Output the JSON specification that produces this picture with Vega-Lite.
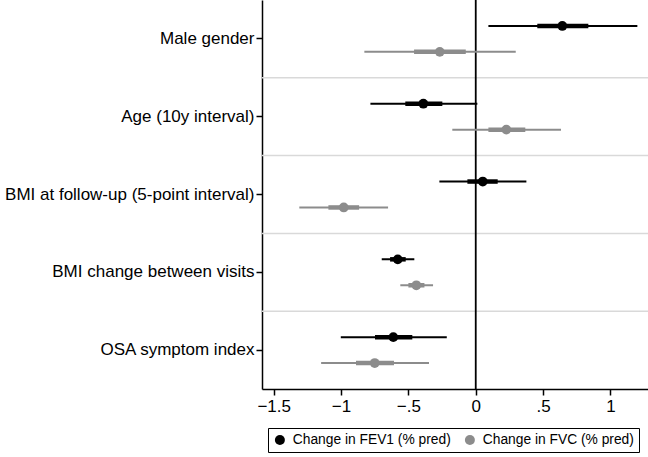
{
  "$schema": "https://vega.github.io/schema/vega-lite/v6.json",
  "width": 386,
  "height": 389,
  "autosize": {"type": "none"},
  "padding": {"left": 262, "top": 0, "right": 0, "bottom": 68},
  "background": "white",
  "config": {
    "view": {"stroke": null},
    "font": "Liberation Sans",
    "axis": {
      "domainColor": "black", "domainWidth": 1.5, "tickColor": "black", "tickWidth": 1.5, "tickSize": 6,
      "labelColor": "black", "labelFont": "Liberation Sans", "labelFontSize": 17, "grid": false, "title": null
    },
    "axisY": {"labelPadding": 2, "labelLimit": 0},
    "axisX": {"labelPadding": 3}
  },
  "data": {
    "values": [
      {"variable": "Male gender", "series": "Change in FEV1 (% pred)", "est": 0.643, "lo95": 0.094, "hi95": 1.2, "lo": 0.457, "hi": 0.836},
      {"variable": "Male gender", "series": "Change in FVC (% pred)", "est": -0.267, "lo95": -0.827, "hi95": 0.297, "lo": -0.458, "hi": -0.074},
      {"variable": "Age (10y interval)", "series": "Change in FEV1 (% pred)", "est": -0.389, "lo95": -0.782, "hi95": 0.012, "lo": -0.523, "hi": -0.248},
      {"variable": "Age (10y interval)", "series": "Change in FVC (% pred)", "est": 0.227, "lo95": -0.174, "hi95": 0.633, "lo": 0.094, "hi": 0.368},
      {"variable": "BMI at follow-up (5-point interval)", "series": "Change in FEV1 (% pred)", "est": 0.052, "lo95": -0.27, "hi95": 0.376, "lo": -0.062, "hi": 0.163},
      {"variable": "BMI at follow-up (5-point interval)", "series": "Change in FVC (% pred)", "est": -0.98, "lo95": -1.31, "hi95": -0.651, "lo": -1.094, "hi": -0.866},
      {"variable": "BMI change between visits", "series": "Change in FEV1 (% pred)", "est": -0.579, "lo95": -0.698, "hi95": -0.456, "lo": -0.636, "hi": -0.52},
      {"variable": "BMI change between visits", "series": "Change in FVC (% pred)", "est": -0.441, "lo95": -0.56, "hi95": -0.317, "lo": -0.5, "hi": -0.381},
      {"variable": "OSA symptom index", "series": "Change in FEV1 (% pred)", "est": -0.612, "lo95": -1.002, "hi95": -0.215, "lo": -0.748, "hi": -0.471},
      {"variable": "OSA symptom index", "series": "Change in FVC (% pred)", "est": -0.75, "lo95": -1.148, "hi95": -0.347, "lo": -0.889, "hi": -0.607}
    ]
  },
  "layer": [
    {
      "data": {"values": [
        {"variable": "Age (10y interval)"},
        {"variable": "BMI at follow-up (5-point interval)"},
        {"variable": "BMI change between visits"},
        {"variable": "OSA symptom index"}
      ]},
      "mark": {"type": "rule", "color": "#d9d9d9", "strokeWidth": 1.5},
      "encoding": {
        "y": {"field": "variable", "type": "nominal", "bandPosition": 0,
          "scale": {"domain": ["Male gender", "Age (10y interval)", "BMI at follow-up (5-point interval)", "BMI change between visits", "OSA symptom index"], "paddingInner": 0, "paddingOuter": 0}}
      }
    },
    {
      "data": {"values": [{"v": 0}]},
      "mark": {"type": "rule", "color": "black", "strokeWidth": 1.8},
      "encoding": {
        "x": {"field": "v", "type": "quantitative",
          "scale": {"domain": [-1.587, 1.279], "nice": false, "zero": false},
          "axis": {"values": [-1.5, -1, -0.5, 0, 0.5, 1], "labelExpr": "datum.value == 0 ? '0' : replace(format(datum.value, ''), '0.', '.')"}}
      }
    },
    {
      "mark": {"type": "rule", "strokeWidth": 2},
      "encoding": {
        "y": {"field": "variable", "type": "nominal"},
        "yOffset": {"field": "series", "type": "nominal", "scale": {"paddingInner": 0, "paddingOuter": 0.5}},
        "x": {"field": "lo95", "type": "quantitative"},
        "x2": {"field": "hi95"},
        "color": {"field": "series", "type": "nominal"}
      }
    },
    {
      "mark": {"type": "rule", "strokeWidth": 4.5},
      "encoding": {
        "y": {"field": "variable", "type": "nominal"},
        "yOffset": {"field": "series", "type": "nominal", "scale": {"paddingInner": 0, "paddingOuter": 0.5}},
        "x": {"field": "lo", "type": "quantitative"},
        "x2": {"field": "hi"},
        "color": {"field": "series", "type": "nominal"}
      }
    },
    {
      "mark": {"type": "point", "filled": true, "size": 95, "opacity": 1},
      "encoding": {
        "y": {"field": "variable", "type": "nominal"},
        "yOffset": {"field": "series", "type": "nominal", "scale": {"paddingInner": 0, "paddingOuter": 0.5}},
        "x": {"field": "est", "type": "quantitative"},
        "color": {"field": "series", "type": "nominal",
          "scale": {"domain": ["Change in FEV1 (% pred)", "Change in FVC (% pred)"], "range": ["#000000", "#8c8c8c"]},
          "legend": {"orient": "none", "legendX": 6, "legendY": 428, "direction": "horizontal", "columns": 2, "title": null,
            "strokeColor": "black", "padding": 5, "labelFontSize": 13.8, "labelFont": "Liberation Sans", "labelColor": "black", "labelLimit": 0,
            "symbolSize": 100, "symbolType": "circle", "symbolStrokeWidth": 0, "columnPadding": 12, "labelOffset": 6, "cornerRadius": 0}}
      }
    }
  ]
}
